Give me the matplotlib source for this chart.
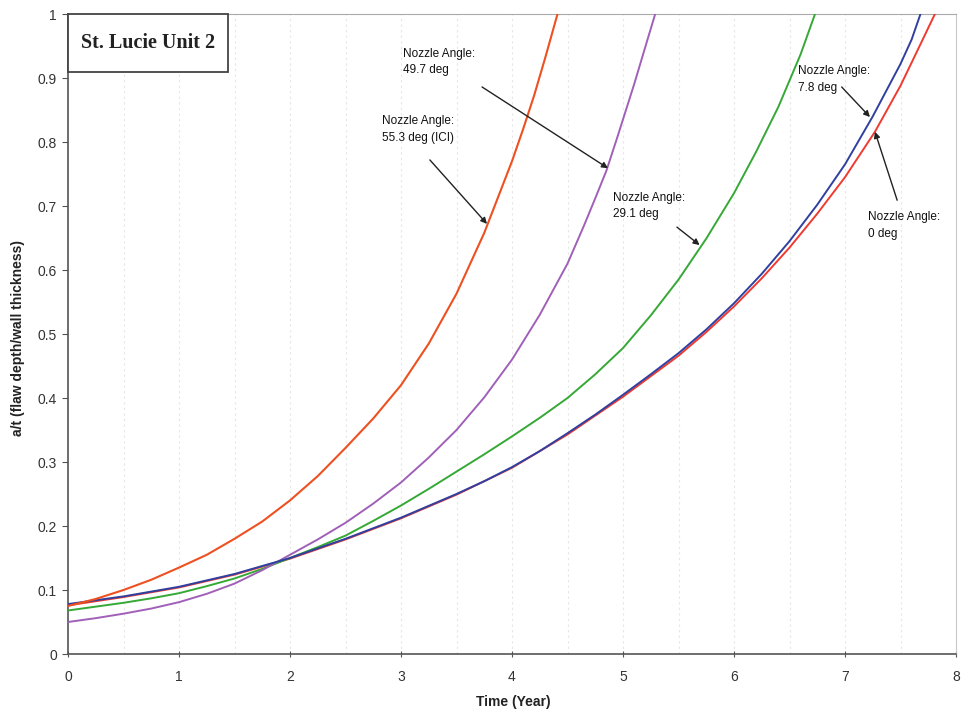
import matplotlib
matplotlib.use("Agg")
import matplotlib.pyplot as plt
from matplotlib.patches import Rectangle

# ---- data ----
t_553 = [0, 0.25, 0.5, 0.75, 1.0, 1.25, 1.5, 1.75, 2.0, 2.25, 2.5, 2.75, 3.0, 3.25, 3.5, 3.75,
         4.0, 4.1, 4.2, 4.3, 4.41]
v_553 = [0.075, 0.086, 0.100, 0.116, 0.135, 0.155, 0.180, 0.207, 0.240, 0.278, 0.322, 0.368,
         0.420, 0.485, 0.563, 0.658, 0.770, 0.820, 0.873, 0.932, 1.0]

t_497 = [0, 0.25, 0.5, 0.75, 1.0, 1.25, 1.5, 1.75, 2.0, 2.25, 2.5, 2.75, 3.0, 3.25, 3.5, 3.75,
         4.0, 4.25, 4.5, 4.65, 4.75, 4.85, 4.95, 5.1, 5.2, 5.29]
v_497 = [0.050, 0.056, 0.063, 0.071, 0.081, 0.094, 0.110, 0.131, 0.155, 0.179, 0.205, 0.235,
         0.268, 0.307, 0.350, 0.401, 0.460, 0.530, 0.610, 0.670, 0.712, 0.755, 0.808, 0.890,
         0.948, 1.0]

t_291 = [0, 0.25, 0.5, 0.75, 1.0, 1.25, 1.5, 1.75, 2.0, 2.25, 2.5, 2.75, 3.0, 3.25, 3.5, 3.75,
         4.0, 4.25, 4.5, 4.75, 5.0, 5.25, 5.5, 5.75, 6.0, 6.2, 6.4, 6.6, 6.73]
v_291 = [0.068, 0.074, 0.080, 0.087, 0.095, 0.106, 0.118, 0.133, 0.150, 0.167, 0.185, 0.208,
         0.232, 0.258, 0.285, 0.312, 0.340, 0.369, 0.400, 0.437, 0.478, 0.529, 0.585, 0.649,
         0.720, 0.785, 0.855, 0.937, 1.0]

t_78 = [0, 0.5, 1.0, 1.5, 2.0, 2.5, 3.0, 3.5, 3.75, 4.0, 4.25, 4.5, 4.75, 5.0, 5.25, 5.5, 5.75,
        6.0, 6.25, 6.5, 6.75, 7.0, 7.25, 7.5, 7.6, 7.68]
v_78 = [0.078, 0.090, 0.105, 0.125, 0.150, 0.180, 0.213, 0.250, 0.270, 0.292, 0.317, 0.345,
        0.374, 0.405, 0.437, 0.470, 0.507, 0.548, 0.594, 0.645, 0.702, 0.765, 0.840, 0.922,
        0.960, 1.0]

t_0 = [0, 0.5, 1.0, 1.5, 2.0, 2.5, 3.0, 3.5, 4.0, 4.5, 5.0, 5.5, 5.75, 6.0, 6.25, 6.5, 6.75,
       7.0, 7.27, 7.5, 7.65, 7.81]
v_0 = [0.076, 0.089, 0.104, 0.124, 0.149, 0.179, 0.212, 0.249, 0.291, 0.343, 0.402, 0.466,
       0.503, 0.543, 0.587, 0.635, 0.688, 0.745, 0.816, 0.888, 0.942, 1.0]

x_ticks = [0, 1, 2, 3, 4, 5, 6, 7, 8]
y_ticks = [0, 0.1, 0.2, 0.3, 0.4, 0.5, 0.6, 0.7, 0.8, 0.9, 1.0]
y_tick_labels = ["0", "0.1", "0.2", "0.3", "0.4", "0.5", "0.6", "0.7", "0.8", "0.9", "1"]
grid_x = [0.5, 1.0, 1.5, 2.0, 2.5, 3.0, 3.5, 4.0, 4.5, 5.0, 5.5, 6.0, 6.5, 7.0, 7.5]

# annotations: text, text position, arrow start, arrow tip
notes = [
    ("Nozzle Angle:\n49.7 deg", (3.02, 0.925), (3.73, 0.886), (4.865, 0.759)),
    ("Nozzle Angle:\n55.3 deg (ICI)", (2.83, 0.820), (3.26, 0.772), (3.775, 0.672)),
    ("Nozzle Angle:\n29.1 deg", (4.91, 0.700), (5.486, 0.667), (5.69, 0.639)),
    ("Nozzle Angle:\n7.8 deg", (6.58, 0.898), (6.97, 0.886), (7.225, 0.839)),
    ("Nozzle Angle:\n0 deg", (7.21, 0.670), (7.47, 0.709), (7.27, 0.816)),
]

plt.rcParams['font.family'] = ['Liberation Sans', 'DejaVu Sans']

fig = plt.figure(figsize=(9.66, 7.17), dpi=100)
ax = fig.add_axes([68/966, 1-654/717, (956-68)/966, (654-14)/717])

for gx in grid_x:
    ax.axvline(gx, color='#e6e6e6', lw=0.8, ls=(0, (2, 3)), zorder=0)

ax.plot(t_0, v_0, color='#f03a30', lw=1.4, zorder=3)
ax.plot(t_78, v_78, color='#3040a0', lw=1.4, zorder=4)
ax.plot(t_291, v_291, color='#35a835', lw=1.4, zorder=3)
ax.plot(t_497, v_497, color='#a060b8', lw=1.4, zorder=3)
ax.plot(t_553, v_553, color='#ee5020', lw=1.5, zorder=5)

ax.set_xlim(0, 8)
ax.set_ylim(0, 1)
ax.set_xticks(x_ticks)
ax.set_xticklabels([str(v) for v in x_ticks])
ax.set_yticks(y_ticks)
ax.set_yticklabels(y_tick_labels)
ax.tick_params(axis='x', direction='inout', length=5, pad=9, labelsize=10, colors='#555555', labelcolor='#333333')
ax.tick_params(axis='y', direction='out', length=4, pad=4, labelsize=10, colors='#555555', labelcolor='#333333')

for side in ['left', 'bottom']:
    ax.spines[side].set_color('#555555')
    ax.spines[side].set_linewidth(1.2)
ax.spines['top'].set_color('#aaaaaa')
ax.spines['right'].set_color('#c8c8c8')

# title box
ax.add_patch(Rectangle((0, 0.909), 1.44, 0.091, transform=ax.transData, fill=True,
                       facecolor='white', edgecolor='#444444', lw=1.3, zorder=6, clip_on=False))
ax.text(0.72, 0.9545, "St. Lucie Unit 2", family=['Liberation Serif', 'DejaVu Serif'],
        fontweight='bold', fontsize=14.5, ha='center', va='center', color='#222222', zorder=7)

for txt, tpos, a0, a1 in notes:
    ax.text(tpos[0], tpos[1], txt, fontsize=8.5, ha='left', va='center', color='#111111',
            linespacing=1.55, zorder=7)
    ax.annotate("", xy=a1, xytext=a0,
                arrowprops=dict(arrowstyle='-|>', color='#222222', lw=1.0,
                                mutation_scale=9, shrinkA=0, shrinkB=0), zorder=7)

fig.text(513/966, 1-702/717, "Time (Year)", fontsize=10, fontweight='bold', ha='center',
         va='center', color='#222222')
fig.text(18/966, 1-338/717, "a/t (flaw depth/wall thickness)", fontsize=10, fontweight='bold',
         ha='center', va='center', rotation=90, color='#222222')

fig.savefig("out.png", dpi=100)
